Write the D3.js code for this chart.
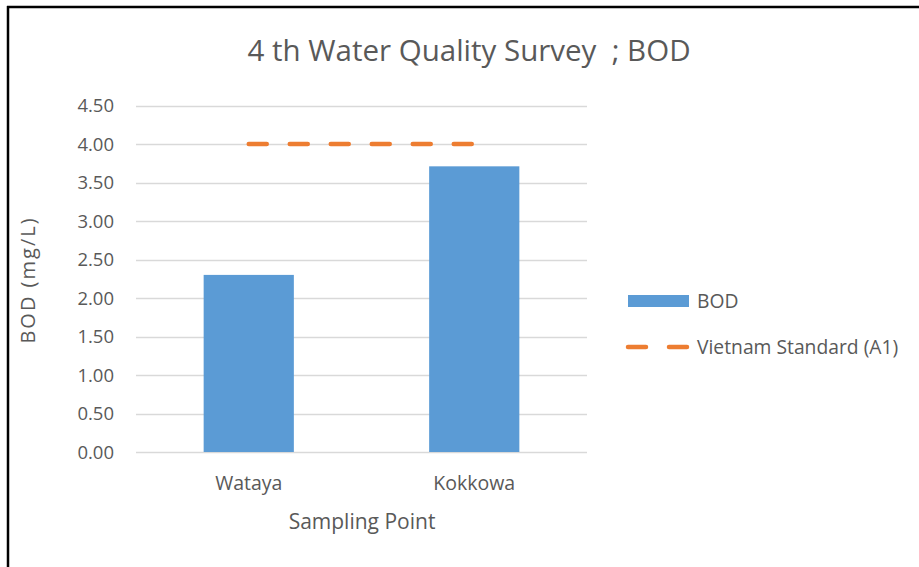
<!DOCTYPE html>
<html><head><meta charset="utf-8">
<script src="https://cdn.jsdelivr.net/npm/d3@7"></script>
<style>html,body{margin:0;padding:0;background:#fff;}svg{display:block;font-family:"Open Sans",sans-serif;}</style>
</head><body>
<svg id="c" width="919" height="567"></svg>
<script>
const categories = ["Wataya", "Kokkowa"];
const bodValues = [2.30, 3.71];
const standardValues = [4.00, 4.00];
const yTicks = [0, 0.5, 1, 1.5, 2, 2.5, 3, 3.5, 4, 4.5];
const titleText = "4 th Water Quality Survey  ; BOD";
const seriesNames = ["BOD", "Vietnam Standard (A1)"];

const svg = d3.select("#c");
const W = 919, H = 567;
const x = d3.scaleBand().domain(categories).range([136, 587]).paddingInner(0.6).paddingOuter(0.3);
const y = d3.scaleLinear().domain([0, 4.5]).range([452, 105.5]);
const txt = "#595959";

// border
svg.append("line").attr("x1", 7).attr("x2", W).attr("y1", 7).attr("y2", 7).attr("stroke", "#000").attr("stroke-width", 2.5);
svg.append("line").attr("x1", 8).attr("x2", 8).attr("y1", 6).attr("y2", H).attr("stroke", "#000").attr("stroke-width", 2.5);

// gridlines
svg.append("g").selectAll("line").data(yTicks).join("line")
  .attr("x1", 136).attr("x2", 587)
  .attr("y1", d => Math.round(y(d)) + 0.5).attr("y2", d => Math.round(y(d)) + 0.5)
  .attr("stroke", "#D9D9D9").attr("stroke-width", 1.5);

// y axis labels
const ya = svg.append("g").attr("transform", "translate(114,0)")
  .call(d3.axisLeft(y).tickValues(yTicks).tickFormat(d3.format(".2f")).tickSize(0).tickPadding(0));
ya.select(".domain").remove();
ya.selectAll("text").attr("fill", txt).attr("font-size", 18.5).attr("font-family", "Open Sans").attr("dy", "0.35em");

// bars
svg.append("g").selectAll("rect").data(bodValues).join("rect")
  .attr("x", (d, i) => x(categories[i])).attr("width", x.bandwidth())
  .attr("y", d => y(d)).attr("height", d => y(0) - y(d))
  .attr("fill", "#5B9BD5");

// standard line
const line = d3.line().x((d, i) => x(categories[i]) + x.bandwidth() / 2).y(d => y(d));
svg.append("path").datum(standardValues).attr("d", line)
  .attr("fill", "none").attr("stroke", "#ED7D31").attr("stroke-width", 4.5)
  .attr("stroke-linecap", "round").attr("stroke-dasharray", "18,23");

// x axis labels
const xa = svg.append("g").attr("transform", "translate(0,452)")
  .call(d3.axisBottom(x).tickSize(0).tickPadding(0));
xa.select(".domain").remove();
xa.selectAll("text").attr("fill", txt).attr("font-size", 19.5).attr("font-family", "Open Sans").attr("dy", "1.95em");

// title
svg.append("text").attr("x", 469).attr("y", 61).attr("text-anchor", "middle")
  .attr("fill", txt).attr("font-size", 29.5).attr("xml:space", "preserve").style("white-space", "pre").text(titleText);

// axis titles
svg.append("text").attr("x", 362).attr("y", 529).attr("text-anchor", "middle")
  .attr("fill", txt).attr("font-size", 21).text("Sampling Point");
svg.append("text").attr("transform", "translate(35,280) rotate(-90)").attr("text-anchor", "middle")
  .attr("fill", txt).attr("font-size", 20).attr("letter-spacing", 2).text("BOD (mg/L)");

// legend
const lg = svg.append("g");
lg.append("rect").attr("x", 628).attr("y", 295).attr("width", 61).attr("height", 12).attr("fill", "#5B9BD5");
lg.append("text").attr("x", 697).attr("y", 301).attr("dy", "0.35em").attr("fill", txt).attr("font-size", 19.3).text(seriesNames[0]);
lg.append("line").attr("x1", 628).attr("x2", 689).attr("y1", 347).attr("y2", 347)
  .attr("stroke", "#ED7D31").attr("stroke-width", 4.5).attr("stroke-linecap", "round").attr("stroke-dasharray", "18,23");
lg.append("text").attr("x", 697).attr("y", 347).attr("dy", "0.35em").attr("fill", txt).attr("font-size", 19.3).text(seriesNames[1]);
</script>
</body></html>
